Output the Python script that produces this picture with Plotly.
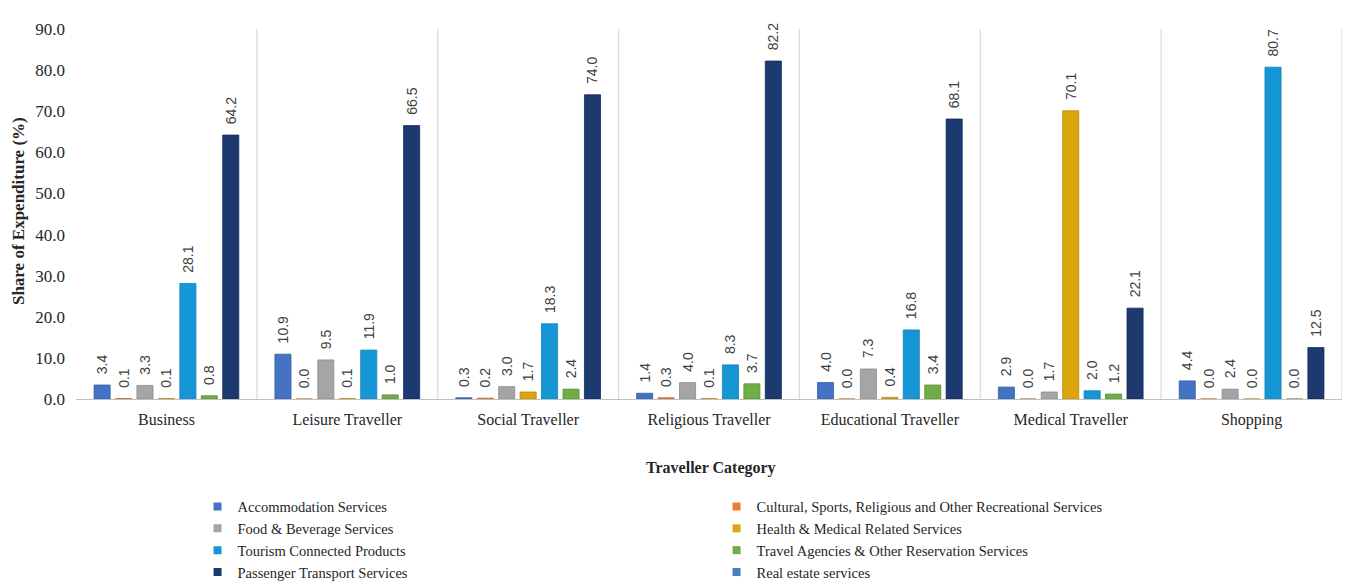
import plotly.graph_objects as go

categories = ["Business", "Leisure Traveller", "Social Traveller", "Religious Traveller",
              "Educational Traveller", "Medical Traveller", "Shopping"]

series_names = [
    "Accommodation Services",
    "Cultural, Sports, Religious and Other Recreational Services",
    "Food & Beverage Services",
    "Health & Medical Related Services",
    "Tourism Connected Products",
    "Travel Agencies & Other Reservation Services",
    "Passenger Transport Services",
    "Real estate services",
]

accommodation = [3.4, 10.9, 0.3, 1.4, 4.0, 2.9, 4.4]
cultural = [0.1, 0.0, 0.2, 0.3, 0.0, 0.0, 0.0]
food = [3.3, 9.5, 3.0, 4.0, 7.3, 1.7, 2.4]
health = [0.1, 0.1, 1.7, 0.1, 0.4, 70.1, 0.0]
tourism = [28.1, 11.9, 18.3, 8.3, 16.8, 2.0, 80.7]
travel = [0.8, 1.0, 2.4, 3.7, 3.4, 1.2, 0.0]
passenger = [64.2, 66.5, 74.0, 82.2, 68.1, 22.1, 12.5]
real_estate = [None] * 7  # shown in legend only, no bars drawn

values = [accommodation, cultural, food, health, tourism, travel, passenger]

colors = ["#4472C4", "#ED7D31", "#A5A5A5", "#DBA50C", "#1597D6", "#70AD47", "#1C3A70", "#4A7EC0"]
line_colors = ["#35609F", "#C4682A", "#8C8C8C", "#B88A0A", "#1080B8", "#5C9139", "#132A55", "#35609F"]

serif = "Liberation Serif"
sans = "Liberation Sans"
NB = "\u00a0"

fig = go.Figure()

for name, vals, col, lcol in zip(series_names[:7], values, colors[:7], line_colors[:7]):
    fig.add_trace(go.Bar(
        x=categories, y=vals, name=name,
        marker=dict(color=col, line=dict(color=lcol, width=0.8)),
        text=[f"{NB}{NB}{v:.1f}" for v in vals],
        textposition="outside", textangle=-90, constraintext="none",
        textfont=dict(family=sans, size=14, color="#404040"),
        cliponaxis=False, showlegend=False,
    ))

# legend entries (small square markers)
for name, col in zip(series_names, colors):
    fig.add_trace(go.Scatter(
        x=[None], y=[None], mode="markers", name=name,
        marker=dict(symbol="square", size=8, color=col),
        showlegend=True,
    ))

# category separators
n = len(categories)
for i in range(n):
    fig.add_shape(type="line", xref="x", yref="paper",
                  x0=i + 0.5, x1=i + 0.5, y0=0, y1=1,
                  line=dict(color="#D9D9D9", width=1.2))

fig.update_layout(
    width=1349, height=584,
    margin=dict(l=76, r=7, t=29, b=185, autoexpand=False),
    paper_bgcolor="white", plot_bgcolor="white",
    barmode="group", bargap=0.17, bargroupgap=0.25,
    font=dict(family=serif, size=16, color="#262626"),
    xaxis=dict(showline=True, linecolor="#BFBFBF", linewidth=1, showgrid=False,
               ticks="", ticklabelstandoff=6,
               tickfont=dict(family=serif, size=16, color="#262626"),
               range=[-0.5, n - 0.5]),
    yaxis=dict(range=[0, 90], dtick=10, tickformat=".1f", showgrid=False, zeroline=False,
               showline=False, ticks="", ticklabelstandoff=10,
               tickfont=dict(family=serif, size=17, color="#262626")),
    legend=dict(orientation="h", x=0.096, xanchor="left",
                yref="container", y=0.16, yanchor="top",
                entrywidth=474, entrywidthmode="pixels", tracegroupgap=0,
                font=dict(family=serif, size=14.5, color="#262626"),
                itemwidth=30, bgcolor="rgba(0,0,0,0)"),
    annotations=[
        dict(text="<b>Share of Expenditure (%)</b>", xref="paper", yref="paper",
             x=-0.0458, y=0.508, xanchor="center", yanchor="middle", textangle=-90,
             showarrow=False, font=dict(family=serif, size=17, color="#262626")),
        dict(text="<b>Traveller Category</b>", xref="paper", yref="paper",
             x=0.5016, y=-0.186, xanchor="center", yanchor="middle",
             showarrow=False, font=dict(family=serif, size=16, color="#262626")),
    ],
)

fig.write_html("out.html")
